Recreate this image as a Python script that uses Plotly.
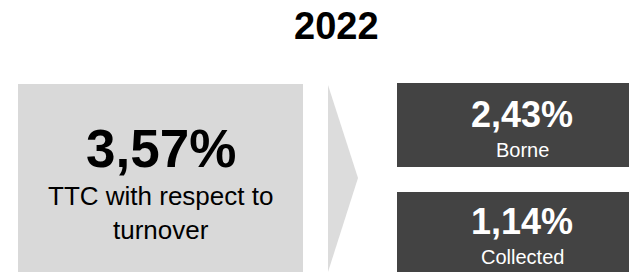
import plotly.graph_objects as go

title = "2022"
main_value = "3,57%"
main_label = ["TTC with respect to", "turnover"]
sub_values = ["2,43%", "1,14%"]
sub_labels = ["Borne", "Collected"]

W, H = 629, 272
FONT = "Liberation Sans, Arial, Helvetica, sans-serif"
LIGHT = "#d9d9d9"
DARK = "#434343"

fig = go.Figure()
fig.add_trace(go.Scatter(x=[0, W], y=[0, H], mode="markers",
                         marker=dict(opacity=0), hoverinfo="skip", showlegend=False))

shapes = []
shapes.append(dict(type="rect", x0=18, x1=303, y0=84, y1=H + 5,
                   fillcolor=LIGHT, line=dict(width=0), layer="below"))
shapes.append(dict(type="path", path="M 328 85 L 358 178 L 328 272 Z",
                   fillcolor="#dcdcdc", line=dict(width=0), layer="below"))
box_y = [(83, 167), (192, H + 5)]
for (y0, y1) in box_y:
    shapes.append(dict(type="rect", x0=397, x1=W + 5, y0=y0, y1=y1,
                       fillcolor=DARK, line=dict(width=0), layer="below"))

ann = []
ann.append(dict(x=336, y=26, text="<b>%s</b>" % title, showarrow=False,
                font=dict(family=FONT, size=38, color="#000"),
                xanchor="center", yanchor="middle"))
ann.append(dict(x=160.5, y=148, text="<b>%s</b>" % main_value, showarrow=False,
                font=dict(family=FONT, size=53, color="#000"),
                xanchor="center", yanchor="middle"))
ann.append(dict(x=160.5, y=213, text="<br>".join(main_label), showarrow=False,
                font=dict(family=FONT, size=26, color="#000"),
                xanchor="center", yanchor="middle"))
val_y = [114, 221.5]
lab_y = [150, 257]
for v, l, vy, ly in zip(sub_values, sub_labels, val_y, lab_y):
    ann.append(dict(x=522, y=vy, text="<b>%s</b>" % v, showarrow=False,
                    font=dict(family=FONT, size=36, color="#fff"),
                    xanchor="center", yanchor="middle"))
    ann.append(dict(x=522, y=ly, text=l, showarrow=False,
                    font=dict(family=FONT, size=20, color="#fff"),
                    xanchor="center", yanchor="middle"))

for a in ann:
    a["xref"] = "x"
    a["yref"] = "y"
for s in shapes:
    s["xref"] = "x"
    s["yref"] = "y"

fig.update_layout(
    width=W, height=H, margin=dict(l=0, r=0, t=0, b=0),
    paper_bgcolor="#fff", plot_bgcolor="#fff",
    xaxis=dict(range=[0, W], visible=False, fixedrange=True),
    yaxis=dict(range=[H, 0], visible=False, fixedrange=True),
    shapes=shapes, annotations=ann, showlegend=False,
)
fig.write_html(
    "out.html",
    config={"displayModeBar": False},
    post_script="document.body.style.margin='0';document.body.style.overflow='hidden';",
)
